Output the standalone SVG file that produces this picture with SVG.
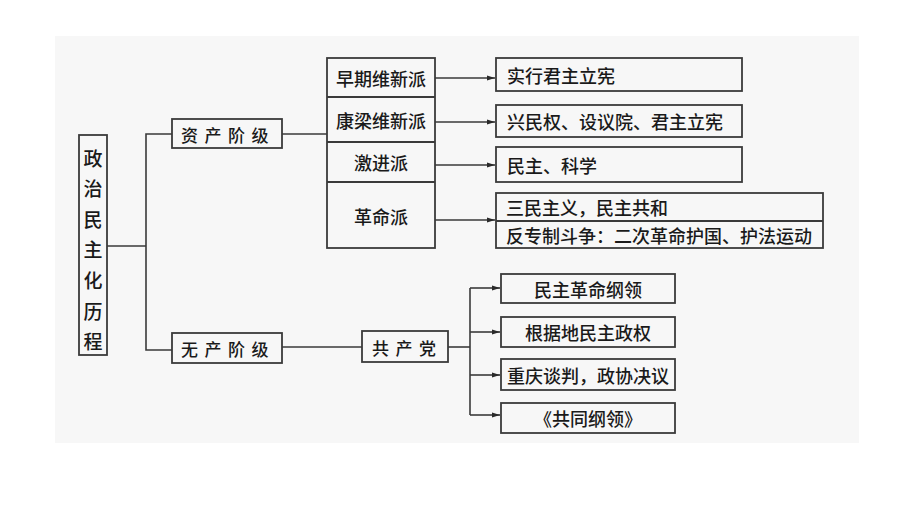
<svg xmlns="http://www.w3.org/2000/svg" width="920" height="518" viewBox="0 0 920 518">
<defs>
<style>
.bx{fill:none;stroke:#3a3a3a;stroke-width:1.8}
.ln{fill:none;stroke:#3a3a3a;stroke-width:1.6}
.t{font-family:"Noto Sans CJK SC","Noto Sans CJK TC",sans-serif;font-size:18px;fill:#1a1a1a;font-weight:500;dominant-baseline:central}
.c{text-anchor:middle}
.sp{letter-spacing:6.5px}
</style>
<marker id="ah" markerUnits="userSpaceOnUse" markerWidth="9" markerHeight="6" refX="8" refY="3" orient="auto">
<path d="M0,0.5 L8,3 L0,5.5 Z" fill="#2a2a2a"/>
</marker>
</defs>
<rect x="0" y="0" width="920" height="518" fill="#ffffff"/>
<rect x="55" y="36" width="804" height="407" fill="#f7f7f7"/>

<g id="connectors">
<polyline class="ln" points="107,246 146,246"/>
<polyline class="ln" points="172,134 146,134 146,350 172,350"/>
<line class="ln" x1="282" y1="134" x2="327" y2="134"/>
<line class="ln" x1="282" y1="347" x2="362" y2="347"/>
<line class="ln" x1="448" y1="347" x2="470" y2="347"/>
<line class="ln" x1="470" y1="288" x2="470" y2="415"/>
<line class="ln" x1="470" y1="288" x2="500" y2="288" marker-end="url(#ah)"/>
<line class="ln" x1="470" y1="332" x2="500" y2="332" marker-end="url(#ah)"/>
<line class="ln" x1="470" y1="375" x2="500" y2="375" marker-end="url(#ah)"/>
<line class="ln" x1="470" y1="415" x2="500" y2="415" marker-end="url(#ah)"/>
<line class="ln" x1="435" y1="78" x2="495" y2="78" marker-end="url(#ah)"/>
<line class="ln" x1="435" y1="122" x2="495" y2="122" marker-end="url(#ah)"/>
<line class="ln" x1="435" y1="165" x2="495" y2="165" marker-end="url(#ah)"/>
<line class="ln" x1="435" y1="220" x2="495" y2="220" marker-end="url(#ah)"/>
</g>

<g id="root">
<rect class="bx" x="79" y="135" width="28" height="220"/>
<text class="t c" x="93" y="157" style="font-size:19px">政</text>
<text class="t c" x="93" y="187" style="font-size:19px">治</text>
<text class="t c" x="93" y="218" style="font-size:19px">民</text>
<text class="t c" x="93" y="248" style="font-size:19px">主</text>
<text class="t c" x="93" y="279" style="font-size:19px">化</text>
<text class="t c" x="93" y="310" style="font-size:19px">历</text>
<text class="t c" x="93" y="340" style="font-size:19px">程</text>
</g>

<g id="zichan">
<rect class="bx" x="172" y="119" width="110" height="29"/>
<text class="t sp" x="181" y="134" style="font-size:17px">资产阶级</text>
</g>

<g id="wuchan">
<rect class="bx" x="172" y="333" width="110" height="30"/>
<text class="t sp" x="181" y="348" style="font-size:17px">无产阶级</text>
</g>

<g id="factions">
<rect class="bx" x="327" y="58" width="108" height="190"/>
<line class="bx" x1="327" y1="97" x2="435" y2="97"/>
<line class="bx" x1="327" y1="142" x2="435" y2="142"/>
<line class="bx" x1="327" y1="182" x2="435" y2="182"/>
<text class="t c" x="381" y="78">早期维新派</text>
<text class="t c" x="381" y="120">康梁维新派</text>
<text class="t c" x="381" y="162">激进派</text>
<text class="t c" x="381" y="216">革命派</text>
</g>

<g id="r1">
<rect class="bx" x="496" y="58" width="246" height="33"/>
<text class="t" x="507" y="75">实行君主立宪</text>
</g>
<g id="r2">
<rect class="bx" x="496" y="105" width="246" height="32"/>
<text class="t" x="507" y="121">兴民权、设议院、君主立宪</text>
</g>
<g id="r3">
<rect class="bx" x="496" y="147" width="246" height="35"/>
<text class="t" x="507" y="165">民主、科学</text>
</g>
<g id="r4">
<rect class="bx" x="496" y="193" width="327" height="55"/>
<line class="bx" x1="496" y1="221" x2="823" y2="221"/>
<text class="t" x="506" y="207">三民主义，民主共和</text>
<text class="t" x="506" y="235">反专制斗争：二次革命护国、护法运动</text>
</g>

<g id="gongchandang">
<rect class="bx" x="362" y="331" width="86" height="31"/>
<text class="t sp" x="372" y="347" style="font-size:17px">共产党</text>
</g>

<g id="p1">
<rect class="bx" x="501" y="274" width="174" height="29"/>
<text class="t c" x="588" y="289">民主革命纲领</text>
</g>
<g id="p2">
<rect class="bx" x="501" y="317" width="174" height="30"/>
<text class="t c" x="588" y="332">根据地民主政权</text>
</g>
<g id="p3">
<rect class="bx" x="501" y="359" width="174" height="31"/>
<text class="t c" x="588" y="375">重庆谈判，政协决议</text>
</g>
<g id="p4">
<rect class="bx" x="501" y="403" width="174" height="30"/>
<text class="t c" x="588" y="418">《共同纲领》</text>
</g>
</svg>
